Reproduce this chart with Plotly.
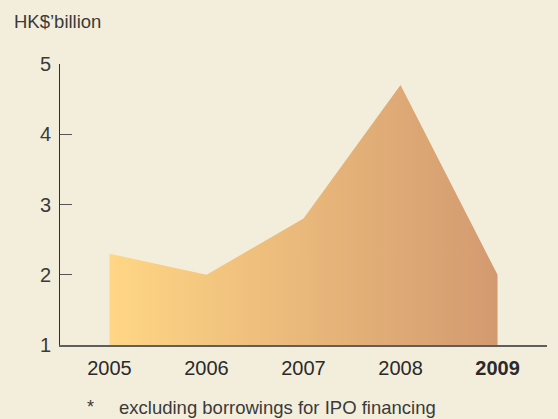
import plotly.graph_objects as go

years = ["2005", "2006", "2007", "2008", "2009"]
borrowings = [2.3, 2.0, 2.8, 4.7, 2.0]
tick_labels = ["2005", "2006", "2007", "2008", "<b>2009</b>"]
y_ticks = [1, 2, 3, 4, 5]

BG = "#f3eedc"
FONT = "Liberation Sans, Arial, sans-serif"

fig = go.Figure()
fig.add_trace(go.Scatter(
    x=years, y=borrowings, mode="lines",
    line=dict(width=0, color="rgba(0,0,0,0)"),
    fill="tozeroy",
    fillgradient=dict(type="horizontal",
                      colorscale=[[0, "#ffd685"], [1, "#d39a70"]]),
    hoverinfo="skip", showlegend=False,
))

fig.update_layout(
    width=558, height=419,
    margin=dict(l=60, r=11, t=64, b=74),
    paper_bgcolor=BG, plot_bgcolor=BG,
    font=dict(family=FONT, size=20, color="#3a3a3a"),
    xaxis=dict(type="category", range=[-0.51, 4.51],
               tickvals=years, ticktext=tick_labels,
               showgrid=False, zeroline=False, ticks="",
               showline=True, linecolor="#5e5e5e", linewidth=2,
               ticklabelstandoff=4,
               tickfont=dict(size=20, color="#2a2a2a")),
    yaxis=dict(range=[1, 5], tickvals=y_ticks,
               showgrid=False, zeroline=False,
               ticks="inside", ticklen=12, tickcolor="#555555", tickwidth=1,
               showline=True, linecolor="#2e2e2e", linewidth=1,
               ticklabelstandoff=4,
               tickfont=dict(size=20, color="#3a3a3a")),
    annotations=[
        dict(text="HK$\u2019billion", xref="paper", yref="paper",
             x=0, y=1, xshift=-48, yshift=43, xanchor="left", yanchor="middle",
             showarrow=False, font=dict(size=18.5, color="#3a3a3a")),
        dict(text="*", xref="paper", yref="paper",
             x=0, y=0, xshift=25, yshift=-62, xanchor="left", yanchor="middle",
             showarrow=False, font=dict(size=18, color="#3a3a3a")),
        dict(text="excluding borrowings for IPO financing", xref="paper", yref="paper",
             x=0, y=0, xshift=57, yshift=-62, xanchor="left", yanchor="middle",
             showarrow=False, font=dict(size=18.5, color="#3a3a3a")),
    ],
)

fig.write_html("out.html")
